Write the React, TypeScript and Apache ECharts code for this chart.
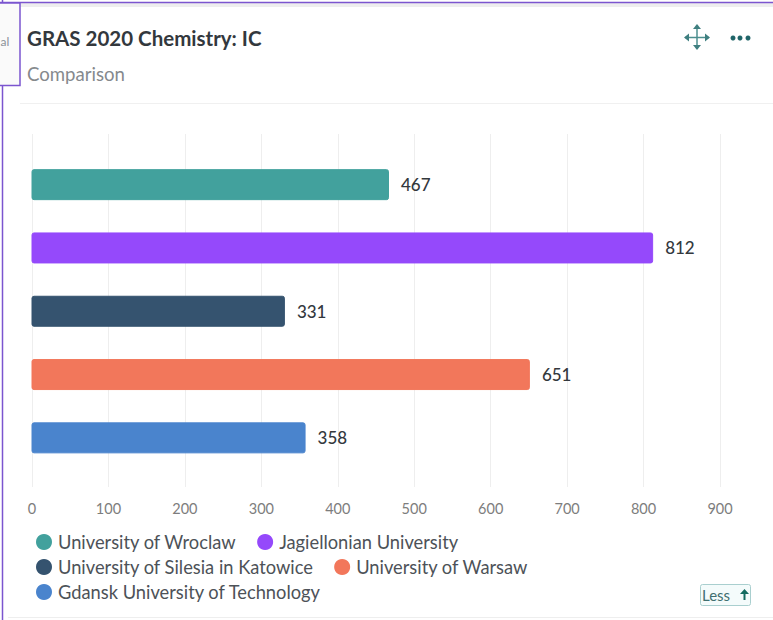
import React, { useEffect, useRef } from "react";
import * as echarts from "echarts";

const categories = ["University of Wroclaw", "Jagiellonian University", "University of Silesia in Katowice", "University of Warsaw", "Gdansk University of Technology"];
const values = [467, 812, 331, 651, 358];
const colors = ["#42a19d", "#9549fb", "#35536f", "#f2775b", "#4a84cd"];
const axisMax = 900;
const axisStep = 100;
const FONT = "Lato, 'Open Sans', sans-serif";

const legendRow = (names: string[], left: number, top: number) => ({
  data: names, left, top, orient: "horizontal", padding: 0, itemGap: 20.5, itemWidth: 14, itemHeight: 14, icon: "circle",
  textStyle: { fontFamily: FONT, fontSize: 18.3, color: "#4d5258", padding: [0, 0, 0, 2] },
});

export default function App() {
  const ref = useRef<HTMLDivElement>(null);
  useEffect(() => {
    const chart = echarts.init(ref.current!, undefined, { renderer: "svg" });
    chart.setOption({
      animation: false,
      backgroundColor: "#fff",
      grid: [
        { left: 32, right: 53, top: 134, bottom: 133 },
        { left: 31.5, right: 52.5, top: 153, bottom: 150.5 },
      ],
      xAxis: [
        {
          gridIndex: 0, type: "value", min: 0, max: axisMax, interval: axisStep,
          axisLine: { show: false }, axisTick: { show: false },
          splitLine: { lineStyle: { color: "#eeeeee", width: 1 } },
          axisLabel: { fontFamily: FONT, fontSize: 14.5, color: "#7d7d7d", margin: 14 },
        },
        {
          gridIndex: 1, type: "value", min: 0, max: axisMax, interval: axisStep, show: false,
          splitLine: { show: false },
        },
      ],
      yAxis: [
        { gridIndex: 0, type: "category", data: [""], show: false },
        { gridIndex: 1, type: "category", inverse: true, data: categories, show: false },
      ],
      legend: [
        legendRow([categories[0], categories[1]], 36, 533),
        legendRow([categories[2], categories[3]], 36, 558),
        legendRow([categories[4]], 36, 583),
      ],
      series: categories.map((name, i) => ({
        name, type: "bar", stack: "all", barWidth: 31, xAxisIndex: 1, yAxisIndex: 1,
        data: categories.map((_, j) => (j === i ? values[j] : null)),
        itemStyle: { color: colors[i], borderColor: colors[i], borderWidth: 1, borderRadius: 2 },
        label: { show: true, position: "right", distance: 12, fontFamily: FONT, fontSize: 17, fontWeight: 500, color: "#33383d" },
      })),
      graphic: [
        { type: "line", shape: { x1: 0, y1: 5, x2: 773, y2: 5 }, style: { stroke: "#eeeeee", lineWidth: 4 } },
        { type: "line", shape: { x1: 0, y1: 2.5, x2: 773, y2: 2.5 }, style: { stroke: "#7b55cf", lineWidth: 1.5 } },
        { type: "line", shape: { x1: 2.5, y1: 0, x2: 2.5, y2: 620 }, style: { stroke: "#7b55cf", lineWidth: 1.5 } },
        { type: "rect", shape: { x: -2, y: 3, width: 22, height: 82.5 }, style: { fill: "#fafafa", stroke: "#7b55cf", lineWidth: 1.5 } },
        { type: "text", x: 0.5, y: 35, style: { text: "al", fontFamily: FONT, fontSize: 12, fill: "#8a9299" } },
        { type: "line", shape: { x1: 20, y1: 103.5, x2: 773, y2: 103.5 }, style: { stroke: "#f0f0f0", lineWidth: 1 } },
        { type: "line", shape: { x1: 8, y1: 617.5, x2: 773, y2: 617.5 }, style: { stroke: "#eeeeee", lineWidth: 1 } },
        { type: "text", x: 27, y: 27, style: { text: "GRAS 2020 Chemistry: IC", fontFamily: FONT, fontSize: 20.5, fontWeight: 700, fill: "#33383d" } },
        { type: "text", x: 27, y: 64, style: { text: "Comparison", fontFamily: FONT, fontSize: 18.6, fill: "#85898d" } },
        { type: "line", shape: { x1: 697, y1: 27, x2: 697, y2: 49 }, style: { stroke: "#4c8f8f", lineWidth: 1.5 } },
        { type: "line", shape: { x1: 685, y1: 37.5, x2: 709, y2: 37.5 }, style: { stroke: "#4c8f8f", lineWidth: 1.5 } },
        { type: "polygon", shape: { points: [[697, 24], [693, 29], [701, 29]] }, style: { fill: "#3f7f80" } },
        { type: "polygon", shape: { points: [[697, 50], [693, 45], [701, 45]] }, style: { fill: "#3f7f80" } },
        { type: "polygon", shape: { points: [[684, 37.5], [689, 33.5], [689, 41.5]] }, style: { fill: "#3f7f80" } },
        { type: "polygon", shape: { points: [[710, 37.5], [705, 33.5], [705, 41.5]] }, style: { fill: "#3f7f80" } },
        { type: "circle", shape: { cx: 733, cy: 38, r: 2.5 }, style: { fill: "#1f6468" } },
        { type: "circle", shape: { cx: 740, cy: 38, r: 2.5 }, style: { fill: "#1f6468" } },
        { type: "circle", shape: { cx: 748, cy: 38, r: 2.5 }, style: { fill: "#1f6468" } },
        { type: "rect", shape: { x: 700.5, y: 584.5, width: 50, height: 21, r: 2 }, style: { fill: "#f4fbfb", stroke: "#a9cfcf", lineWidth: 1 } },
        { type: "text", x: 702, y: 587, style: { text: "Less", fontFamily: FONT, fontSize: 15, fill: "#3f6f70" } },
        { type: "polygon", shape: { points: [[744.5, 589], [740, 594], [743.5, 594], [743.5, 600], [745.5, 600], [745.5, 594], [749, 594]] }, style: { fill: "#146b60" } },
      ],
    });
    return () => chart.dispose();
  }, []);
  return <div ref={ref} style={{ position: "absolute", left: 0, top: 0, width: 773, height: 620 }} />;
}
